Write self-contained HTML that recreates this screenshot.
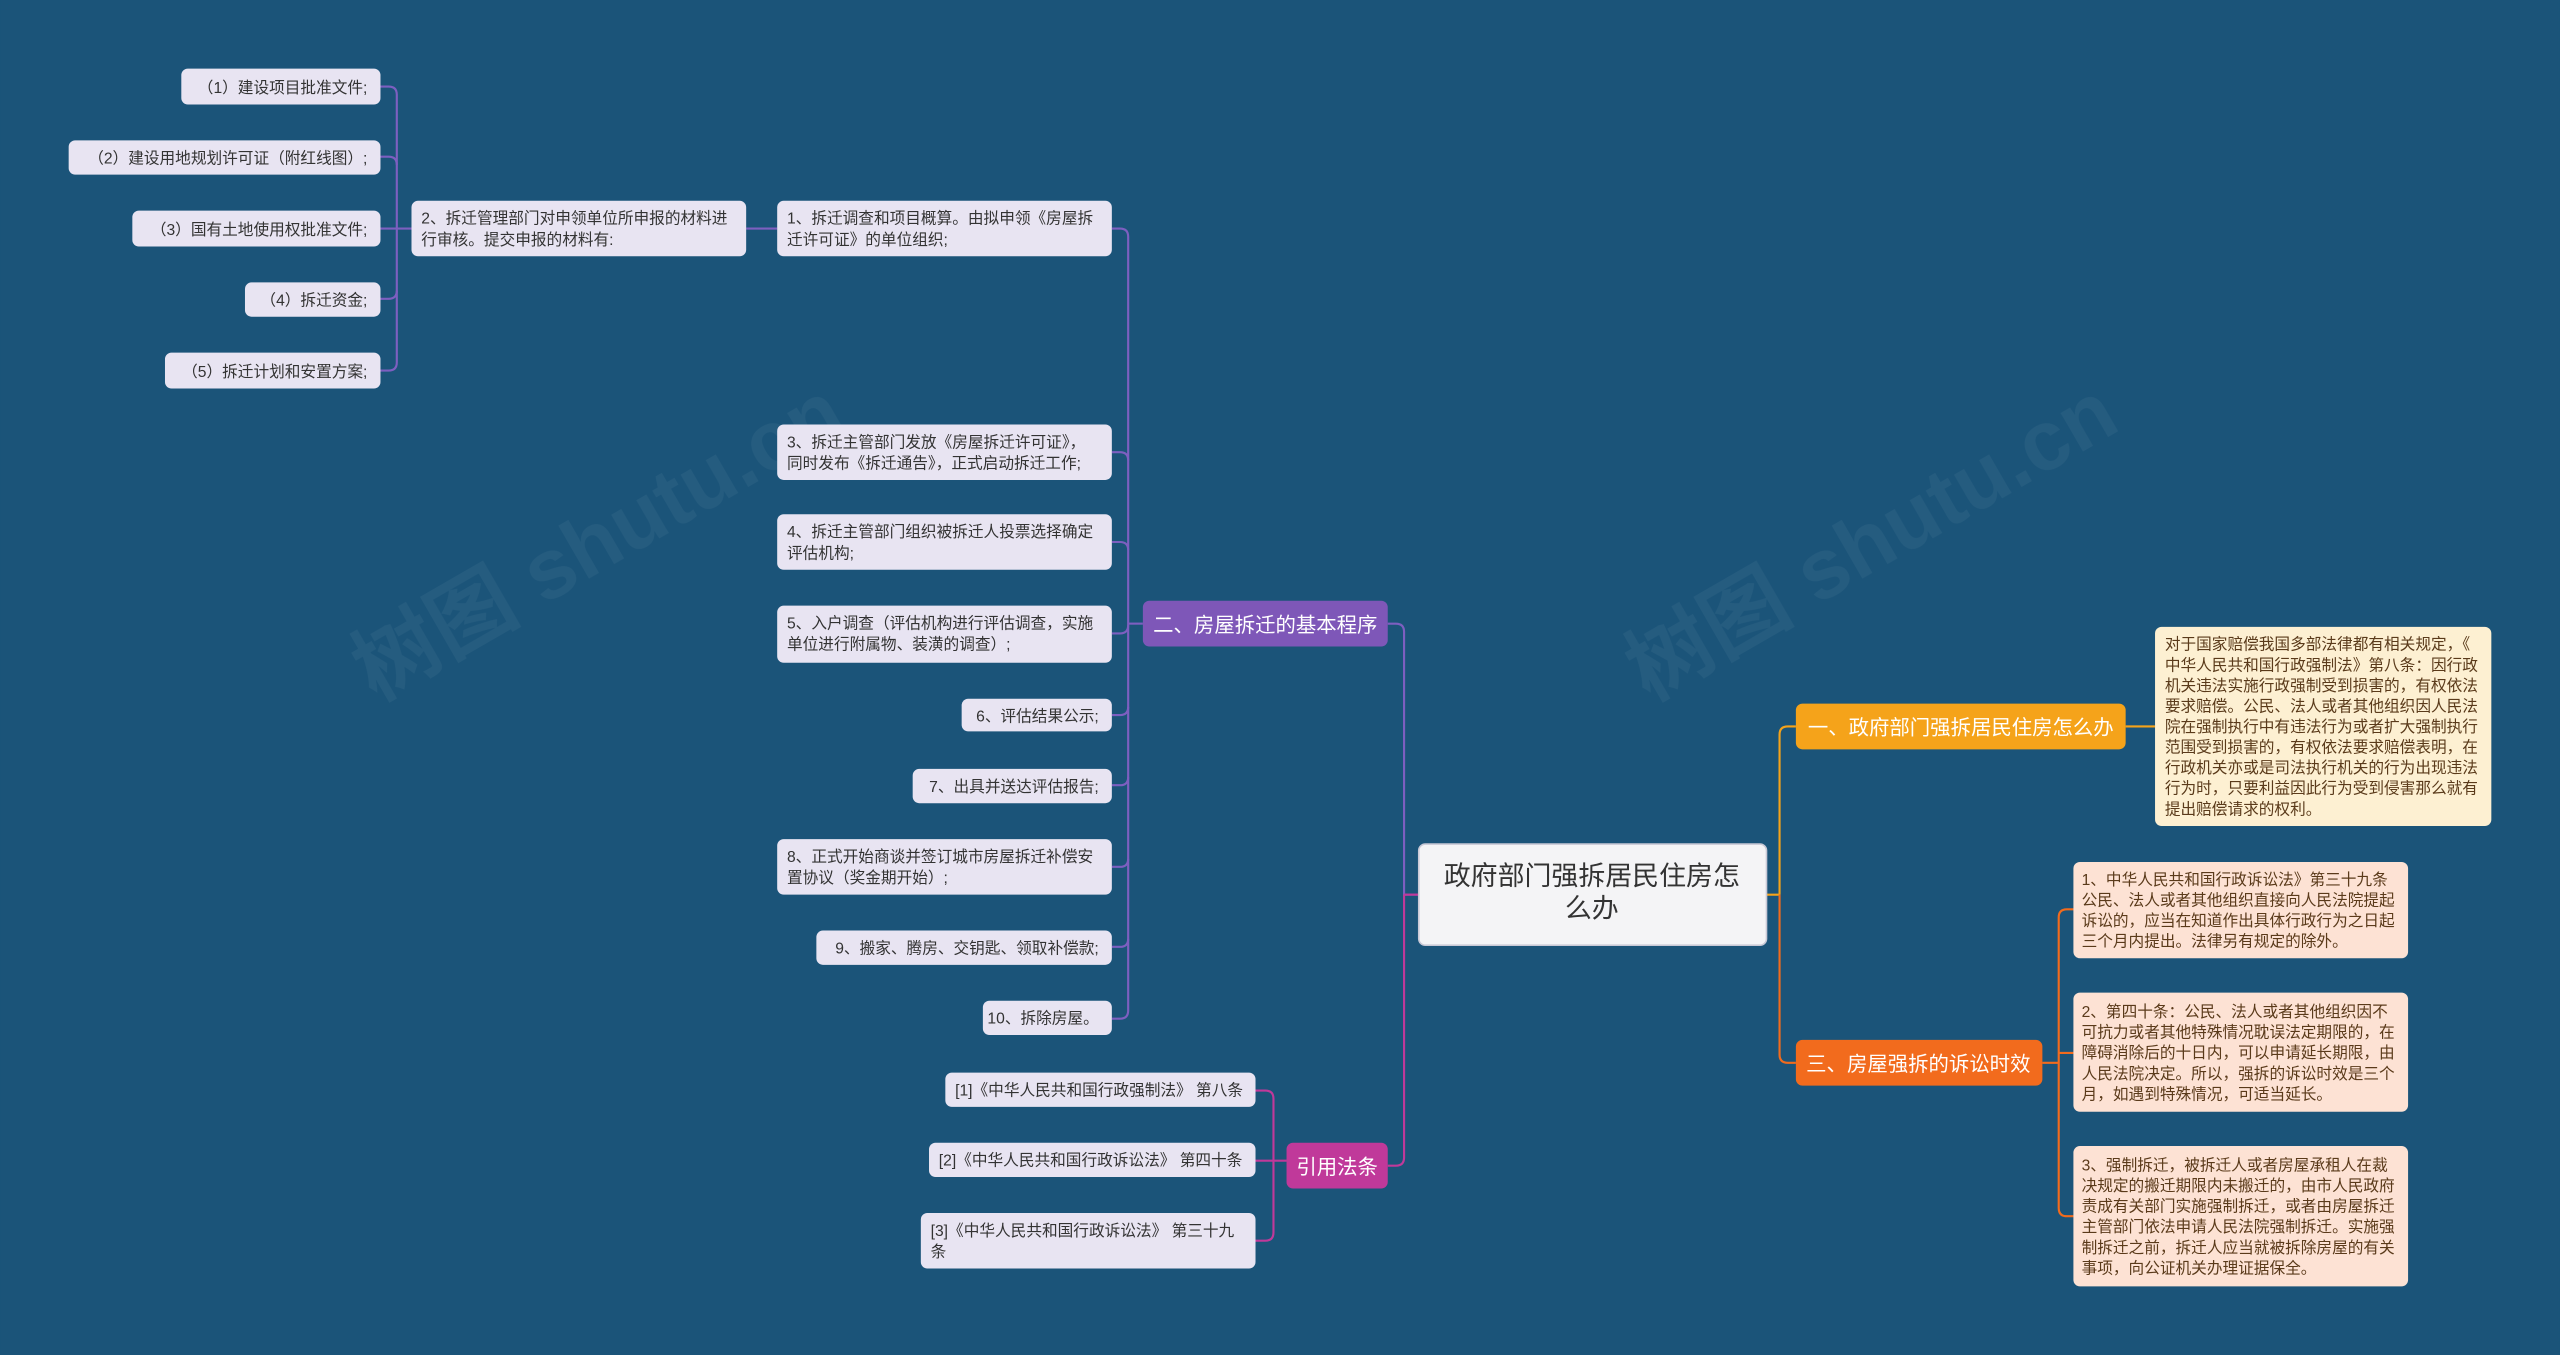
<!DOCTYPE html>
<html><head><meta charset="utf-8">
<style>
html,body{margin:0;padding:0;background:#1b5479;}
svg{display:block;}
text{font-family:"Liberation Sans","Noto Sans CJK SC",sans-serif;}
.l{font-size:9.6px;fill:#333;}
.r{font-size:9.6px;fill:#5a3a1a;}
</style></head><body>
<svg width="2560" height="1355" viewBox="0 0 1568 830" xmlns="http://www.w3.org/2000/svg">
<rect width="1568" height="830" fill="#1b5479"/>
<g fill="#ffffff" opacity="0.05" font-size="52" font-weight="bold">
<text x="230" y="430" transform="rotate(-30 230 430)">树图 shutu.cn</text>
<text x="1010" y="430" transform="rotate(-30 1010 430)">树图 shutu.cn</text>
</g>
<g fill="none" stroke-width="1.3">
<!-- left materials bracket -->
<path d="M233 53 H238 Q243 53 243 58 V222 Q243 227 238 227 H233" stroke="#7d5fc0"/>
<path d="M233 96 H238 Q243 96 243 101" stroke="#7d5fc0"/>
<path d="M233 140 H252" stroke="#7d5fc0"/>
<path d="M233 183 H238 Q243 183 243 178" stroke="#7d5fc0"/>
<path d="M457 140 H476" stroke="#7d5fc0"/>
<!-- procedure branch -->
<path d="M681 140 H686 Q691 140 691 145 V619 Q691 624 686 624 H681" stroke="#7d5fc0"/>
<path d="M681 277 H686 Q691 277 691 282" stroke="#7d5fc0"/>
<path d="M681 332 H686 Q691 332 691 337" stroke="#7d5fc0"/>
<path d="M681 388 H686 Q691 388 691 383" stroke="#7d5fc0"/>
<path d="M681 438 H686 Q691 438 691 433" stroke="#7d5fc0"/>
<path d="M681 481 H686 Q691 481 691 476" stroke="#7d5fc0"/>
<path d="M681 531 H686 Q691 531 691 526" stroke="#7d5fc0"/>
<path d="M681 580 H686 Q691 580 691 575" stroke="#7d5fc0"/>
<path d="M691 382 H700" stroke="#7d5fc0"/>
<path d="M850 382 H855 Q860 382 860 387 V548 H869" stroke="#7d5fc0"/>
<!-- law -->
<path d="M860 548 V709 Q860 714 855 714 H850" stroke="#c0399a"/>
<path d="M769 668 H775 Q780 668 780 673 V755 Q780 760 775 760 H769" stroke="#c0399a"/>
<path d="M769 711 H788" stroke="#c0399a"/>
<path d="M860 548 H869" stroke="#c0399a"/>
<!-- right -->
<path d="M1082 548 H1090 M1090 548 V450 Q1090 445 1095 445 H1100" stroke="#f5a31a"/>
<path d="M1090 548 V646 Q1090 651 1095 651 H1100" stroke="#f26b1d"/>
<path d="M1302 445 H1320" stroke="#f5a31a"/>
<path d="M1251 651 H1261 M1270 557 H1266 Q1261 557 1261 562 V740 Q1261 745 1266 745 H1270 M1261 645 H1270" stroke="#f26b1d"/>
</g>
<!-- left leaves -->
<g fill="#e8e4f2">
<rect x="111" y="42" width="122" height="22" rx="4"/>
<rect x="42" y="86" width="191" height="21" rx="4"/>
<rect x="81" y="129" width="152" height="22" rx="4"/>
<rect x="150" y="173" width="83" height="21" rx="4"/>
<rect x="101" y="216" width="132" height="22" rx="4"/>
<rect x="252" y="123" width="205" height="34" rx="4"/>
<rect x="476" y="123" width="205" height="34" rx="4"/>
<rect x="476" y="260" width="205" height="34" rx="4"/>
<rect x="476" y="315" width="205" height="34" rx="4"/>
<rect x="476" y="371" width="205" height="35" rx="4"/>
<rect x="589" y="428" width="92" height="20" rx="4"/>
<rect x="559" y="471" width="122" height="21" rx="4"/>
<rect x="476" y="514" width="205" height="34" rx="4"/>
<rect x="500" y="570" width="181" height="21" rx="4"/>
<rect x="602" y="613" width="79" height="21" rx="4"/>
<rect x="579" y="657" width="190" height="21" rx="4"/>
<rect x="569" y="700" width="200" height="21" rx="4"/>
<rect x="564" y="743" width="205" height="34" rx="4"/>
</g>
<g class="l">
<text x="225" y="57" text-anchor="end">（1）建设项目批准文件;</text>
<text x="225" y="100" text-anchor="end">（2）建设用地规划许可证（附红线图）;</text>
<text x="225" y="144" text-anchor="end">（3）国有土地使用权批准文件;</text>
<text x="225" y="187" text-anchor="end">（4）拆迁资金;</text>
<text x="225" y="231" text-anchor="end">（5）拆迁计划和安置方案;</text>
<text x="258" y="137">2、拆迁管理部门对申领单位所申报的材料进<tspan x="258" dy="13">行审核。提交申报的材料有:</tspan></text>
<text x="482" y="137">1、拆迁调查和项目概算。由拟申领《房屋拆<tspan x="482" dy="13">迁许可证》的单位组织;</tspan></text>
<text x="482" y="274">3、拆迁主管部门发放《房屋拆迁许可证》，<tspan x="482" dy="13">同时发布《拆迁通告》，正式启动拆迁工作;</tspan></text>
<text x="482" y="329">4、拆迁主管部门组织被拆迁人投票选择确定<tspan x="482" dy="13">评估机构;</tspan></text>
<text x="482" y="385">5、入户调查（评估机构进行评估调查，实施<tspan x="482" dy="13">单位进行附属物、装潢的调查）;</tspan></text>
<text x="673" y="442" text-anchor="end">6、评估结果公示;</text>
<text x="673" y="485" text-anchor="end">7、出具并送达评估报告;</text>
<text x="482" y="528">8、正式开始商谈并签订城市房屋拆迁补偿安<tspan x="482" dy="13">置协议（奖金期开始）;</tspan></text>
<text x="673" y="584" text-anchor="end">9、搬家、腾房、交钥匙、领取补偿款;</text>
<text x="673" y="627" text-anchor="end">10、拆除房屋。</text>
<text x="585" y="671">[1]《中华人民共和国行政强制法》 第八条</text>
<text x="575" y="714">[2]《中华人民共和国行政诉讼法》 第四十条</text>
<text x="570" y="757">[3]《中华人民共和国行政诉讼法》 第三十九<tspan x="570" dy="13">条</tspan></text>
</g>
<!-- branches -->
<rect x="700" y="368" width="150" height="28" rx="4" fill="#7e57b8"/>
<text x="775" y="387" text-anchor="middle" font-size="12.5" fill="#fff">二、房屋拆迁的基本程序</text>
<rect x="788" y="700" width="62" height="28" rx="4" fill="#c0399a"/>
<text x="819" y="719" text-anchor="middle" font-size="12.5" fill="#fff">引用法条</text>
<rect x="869" y="517" width="213" height="62" rx="4" fill="#f4f4f6" stroke="#c9c9d6"/>
<text x="975" y="542" text-anchor="middle" font-size="16.5" fill="#333">政府部门强拆居民住房怎<tspan x="975" dy="20">么办</tspan></text>
<rect x="1100" y="431" width="202" height="28" rx="4" fill="#f5a31a"/>
<text x="1201" y="450" text-anchor="middle" font-size="12.5" fill="#fff">一、政府部门强拆居民住房怎么办</text>
<rect x="1100" y="637" width="151" height="28" rx="4" fill="#f26b1d"/>
<text x="1175" y="656" text-anchor="middle" font-size="12.5" fill="#fff">三、房屋强拆的诉讼时效</text>
<!-- right leaves -->
<rect x="1320" y="384" width="206" height="122" rx="4" fill="#fdf0d2"/>
<g class="r">
<text x="1326" y="398">对于国家赔偿我国多部法律都有相关规定，《<tspan x="1326" dy="12.6">中华人民共和国行政强制法》第八条：因行政</tspan><tspan x="1326" dy="12.6">机关违法实施行政强制受到损害的，有权依法</tspan><tspan x="1326" dy="12.6">要求赔偿。公民、法人或者其他组织因人民法</tspan><tspan x="1326" dy="12.6">院在强制执行中有违法行为或者扩大强制执行</tspan><tspan x="1326" dy="12.6">范围受到损害的，有权依法要求赔偿表明，在</tspan><tspan x="1326" dy="12.6">行政机关亦或是司法执行机关的行为出现违法</tspan><tspan x="1326" dy="12.6">行为时，只要利益因此行为受到侵害那么就有</tspan><tspan x="1326" dy="12.6">提出赔偿请求的权利。</tspan></text>
</g>
<g fill="#fde2d4">
<rect x="1270" y="528" width="205" height="59" rx="4"/>
<rect x="1270" y="608" width="205" height="73" rx="4"/>
<rect x="1270" y="702" width="205" height="86" rx="4"/>
</g>
<g class="r">
<text x="1275" y="542">1、中华人民共和国行政诉讼法》第三十九条<tspan x="1275" dy="12.6">公民、法人或者其他组织直接向人民法院提起</tspan><tspan x="1275" dy="12.6">诉讼的，应当在知道作出具体行政行为之日起</tspan><tspan x="1275" dy="12.6">三个月内提出。法律另有规定的除外。</tspan></text>
<text x="1275" y="623">2、第四十条：公民、法人或者其他组织因不<tspan x="1275" dy="12.6">可抗力或者其他特殊情况耽误法定期限的，在</tspan><tspan x="1275" dy="12.6">障碍消除后的十日内，可以申请延长期限，由</tspan><tspan x="1275" dy="12.6">人民法院决定。所以，强拆的诉讼时效是三个</tspan><tspan x="1275" dy="12.6">月，如遇到特殊情况，可适当延长。</tspan></text>
<text x="1275" y="717">3、强制拆迁，被拆迁人或者房屋承租人在裁<tspan x="1275" dy="12.6">决规定的搬迁期限内未搬迁的，由市人民政府</tspan><tspan x="1275" dy="12.6">责成有关部门实施强制拆迁，或者由房屋拆迁</tspan><tspan x="1275" dy="12.6">主管部门依法申请人民法院强制拆迁。实施强</tspan><tspan x="1275" dy="12.6">制拆迁之前，拆迁人应当就被拆除房屋的有关</tspan><tspan x="1275" dy="12.6">事项，向公证机关办理证据保全。</tspan></text>
</g>
</svg>
</body></html>
